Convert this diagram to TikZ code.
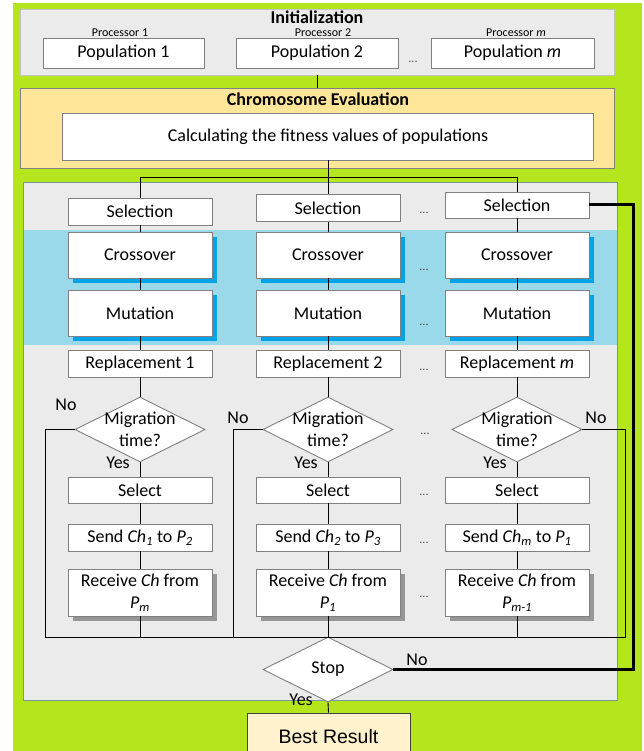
\documentclass[tikz,border=0pt]{standalone}
\usepackage{fontspec}
\setmainfont{Carlito}
\newfontfamily\arialfont{Liberation Sans}
\usetikzlibrary{shapes.geometric,shadows}
\definecolor{bggreen}{RGB}{181,230,29}
\definecolor{panelgray}{RGB}{235,235,235}
\definecolor{evalfill}{RGB}{255,230,153}
\definecolor{bandblue}{RGB}{153,217,234}
\definecolor{shadowblue}{RGB}{0,162,232}
\definecolor{shadowgray}{RGB}{150,150,150}
\definecolor{bestfill}{RGB}{255,242,204}
\definecolor{boxgray}{RGB}{128,128,128}
\definecolor{lightborder}{RGB}{195,195,195}
\definecolor{panelborder}{RGB}{120,150,155}
\newcommand\mainsz{\fontsize{18}{22}\selectfont}
\newcommand\smallsz{\fontsize{12}{14}\selectfont}
\begin{document}
\begin{tikzpicture}[x=1pt,y=-1pt,
  conn/.style={draw=black,line width=0.9pt},
  thickconn/.style={draw=black,line width=3pt},
  wbox/.style={draw=boxgray,fill=white,line width=0.9pt,inner sep=0pt,font=\mainsz},
  colbox/.style={wbox,minimum width=144pt},
  smallrow/.style={colbox,minimum height=27pt},
  bigrow/.style={colbox,minimum height=46pt,
    drop shadow={shadow xshift=5pt,shadow yshift=-5pt,fill=shadowblue,opacity=1}},
  recvbox/.style={colbox,minimum height=47pt,align=center,
    drop shadow={shadow xshift=5pt,shadow yshift=-5pt,fill=shadowgray,opacity=1}},
  decision/.style={diamond,aspect=2,draw=boxgray,fill=white,line width=0.9pt,
    inner sep=0pt,minimum width=130pt,minimum height=65pt},
  lbl/.style={font=\mainsz,inner sep=0pt},
  titlelbl/.style={font=\mainsz\bfseries,inner sep=0pt},
  proclbl/.style={font=\smallsz,inner sep=0pt},
  dots/.style={font=\smallsz,text=black!70,inner sep=0pt}]
\clip (0,0) rectangle (644,751);
\fill[white] (0,0) rectangle (644,751);
\fill[bggreen] (13,3) rectangle (642,751);

% ---------- Initialization ----------
\node[draw=lightborder,fill=panelgray,line width=0.9pt,inner sep=0pt,
      minimum width=594pt,minimum height=66pt] (init) at (317,42) {};
\node[titlelbl] (inittitle) at (317,17) {Initialization};
\node[proclbl] (proc1) at (120,33) {Processor 1};
\node[proclbl] (proc2) at (323,33) {Processor 2};
\node[proclbl] (proc3) at (516,33) {Processor \textit{m}};
\node[wbox,minimum width=161pt,minimum height=30pt] (pop1) at (123.5,53) {Population 1};
\node[wbox,minimum width=162pt,minimum height=30pt] (pop2) at (317,53) {Population 2};
\node[wbox,minimum width=163pt,minimum height=30pt] (pop3) at (512.5,53) {Population \textit{m}};
\node[dots] (popdots) at (413,62) {...};

% ---------- Evaluation ----------
\node[draw=boxgray,fill=evalfill,line width=0.9pt,inner sep=0pt,
      minimum width=594pt,minimum height=80pt] (eval) at (317,128) {};
\node[titlelbl] (evaltitle) at (318,99) {Chromosome Evaluation};
\node[wbox,minimum width=531pt,minimum height=47pt] (fit) at (328,136.5)
  {Calculating the fitness values of populations};
\draw[conn] (init.south) -- (eval.north);

% ---------- Main panel ----------
\draw[fill=panelgray,draw=panelborder,line width=0.9pt] (23,182) rectangle (617,700);
\fill[bandblue] (23.5,230) rectangle (616.5,345);

% selection
\node[smallrow] (sel1) at (140,211.5) {Selection};
\node[smallrow] (sel2) at (328,208) {Selection};
\node[smallrow,minimum height=26pt] (sel3) at (517,205) {Selection};
% crossover
\node[bigrow] (cro1) at (140,255) {Crossover};
\node[bigrow] (cro2) at (328,255) {Crossover};
\node[bigrow] (cro3) at (517,255) {Crossover};
% mutation
\node[bigrow] (mut1) at (140,313) {Mutation};
\node[bigrow] (mut2) at (328,313) {Mutation};
\node[bigrow] (mut3) at (517,313) {Mutation};
% replacement
\node[smallrow] (rep1) at (140,363.5) {Replacement 1};
\node[smallrow] (rep2) at (328,363.5) {Replacement 2};
\node[smallrow] (rep3) at (517,363.5) {Replacement \textit{m}};
% migration decisions
\node[decision] (mig1) at (140,429.5) {};
\node[decision] (mig2) at (328,429.5) {};
\node[decision] (mig3) at (517,429.5) {};
\node[lbl,align=center] (migt1) at (mig1.center) {Migration\\time?};
\node[lbl,align=center] (migt2) at (mig2.center) {Migration\\time?};
\node[lbl,align=center] (migt3) at (mig3.center) {Migration\\time?};
% select
\node[smallrow,minimum height=26pt] (slc1) at (140,490) {Select};
\node[smallrow,minimum height=26pt] (slc2) at (328,490) {Select};
\node[smallrow,minimum height=26pt] (slc3) at (517,490) {Select};
% send
\node[smallrow] (snd1) at (140,537.5) {Send \textit{Ch}\textsubscript{\textit{1}} to \textit{P}\textsubscript{\textit{2}}};
\node[smallrow] (snd2) at (328,537.5) {Send \textit{Ch}\textsubscript{\textit{2}} to \textit{P}\textsubscript{\textit{3}}};
\node[smallrow] (snd3) at (517,537.5) {Send \textit{Ch}\textsubscript{\textit{m}} to \textit{P}\textsubscript{\textit{1}}};
% receive
\node[recvbox] (rcv1) at (140,592.5) {Receive \textit{Ch} from\\\textit{P}\textsubscript{\textit{m}}};
\node[recvbox] (rcv2) at (328,592.5) {Receive \textit{Ch} from\\\textit{P}\textsubscript{\textit{1}}};
\node[recvbox] (rcv3) at (517,592.5) {Receive \textit{Ch} from\\\textit{P}\textsubscript{\textit{m-1}}};

% dots between columns 2 and 3
\node[dots] (d1) at (424,213) {...};
\node[dots] (d2) at (424,270) {...};
\node[dots] (d3) at (424,325) {...};
\node[dots] (d4) at (424,370) {...};
\node[dots] (d5) at (425,434) {...};
\node[dots] (d6) at (424,495) {...};
\node[dots] (d7) at (424,543) {...};
\node[dots] (d8) at (424,597) {...};

% stop and result
\node[decision] (stop) at (328,669.5) {};
\node[lbl] (stoptxt) at (stop.center) {Stop};
\node[draw=black!75,fill=bestfill,line width=0.9pt,inner sep=0pt,
      minimum width=163pt,minimum height=48pt,font=\arialfont\fontsize{19.5}{22}\selectfont]
      (best) at (328.5,737) {Best Result};

% ---------- connectors ----------
\coordinate (hl) at (140,177);
\coordinate (hr) at (517,177);
\draw[conn] (fit.south) -- (sel2.north);
\draw[conn] (sel1.north) -- (hl) -- (hr) -- (sel3.north);
\foreach \c in {1,2,3}{
  \draw[conn] (sel\c) -- (cro\c);
  \draw[conn] (cro\c) -- (mut\c);
  \draw[conn] (mut\c) -- (rep\c);
  \draw[conn] (rep\c) -- (mig\c.north);
  \draw[conn] (mig\c.south) -- (slc\c);
  \draw[conn] (slc\c) -- (snd\c);
  \draw[conn] (snd\c) -- (rcv\c);
}
\coordinate (bl) at (45,637);
\coordinate (bm) at (233,637);
\coordinate (br) at (625,637);
\draw[conn] (mig1.west) -| (bl) -- (br) |- (mig3.east);
\draw[conn] (mig2.west) -| (bm);
\draw[conn] (rcv1.south) -- (rcv1.south |- bl);
\draw[conn] (rcv2.south) -- (stop.north);
\draw[conn] (rcv3.south) -- (rcv3.south |- br);
\draw[conn] (stop.south) -- (best.north);
\coordinate (tr) at (633,205);
\draw[thickconn] (sel3.east) -- (tr) |- (stop.east);

% ---------- labels ----------
\node[lbl] (no1) at (66,405) {No};
\node[lbl] (yes1) at (118,463) {Yes};
\node[lbl] (no2) at (238,418) {No};
\node[lbl] (yes2) at (306,463) {Yes};
\node[lbl] (no3) at (596,418) {No};
\node[lbl] (yes3) at (495,463) {Yes};
\node[lbl] (nostop) at (417,660) {No};
\node[lbl] (yesstop) at (301,700) {Yes};
\end{tikzpicture}
\end{document}
